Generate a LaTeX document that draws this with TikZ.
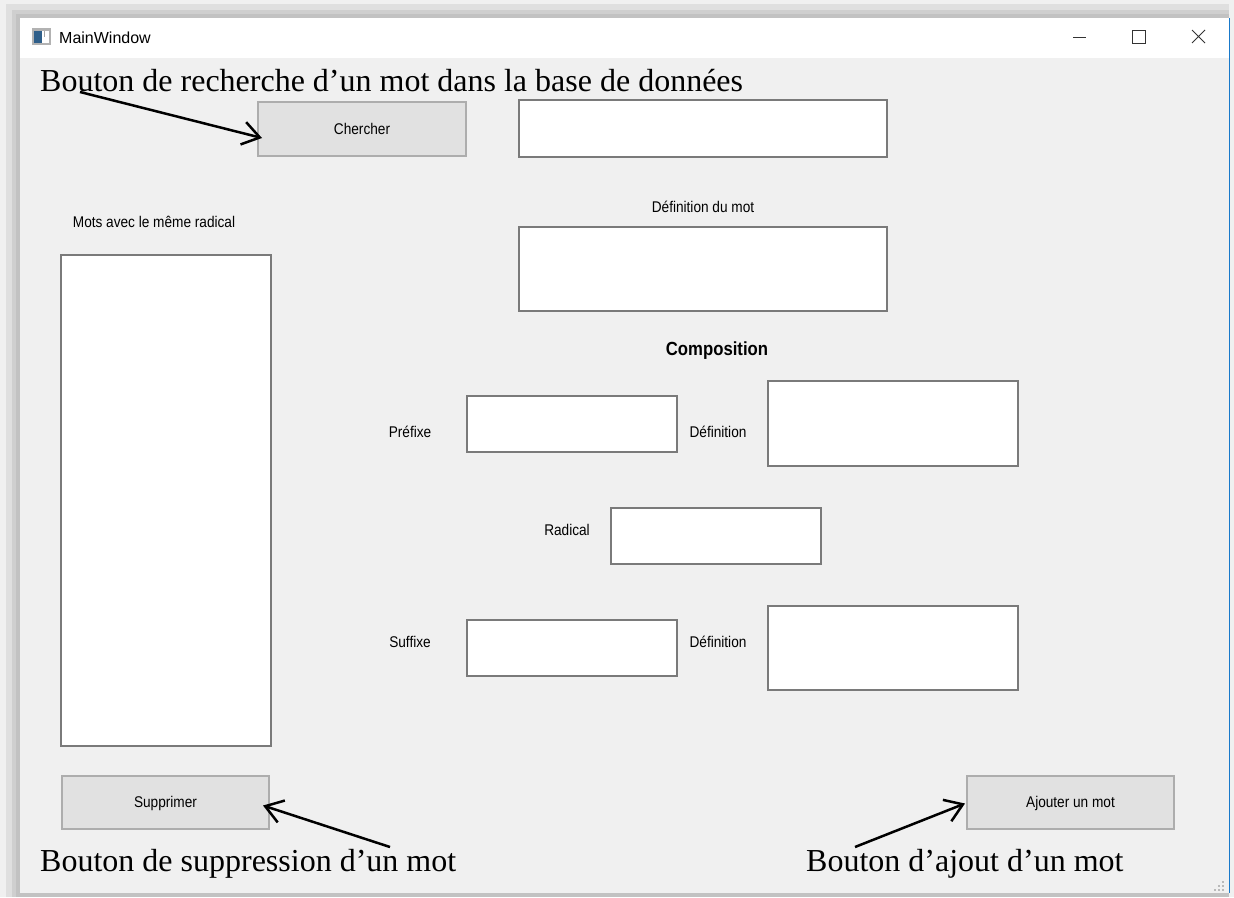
\documentclass[tikz,border=0pt]{standalone}
\usepackage{fontspec}
\setmainfont{Liberation Serif}
\newfontfamily\uifont[FakeStretch=0.88]{Liberation Sans}
\newfontfamily\titlefont{Liberation Sans}
\usepackage{xcolor}
\usetikzlibrary{arrows.meta,positioning,calc}
\definecolor{fondfenetre}{HTML}{F0F0F0}
\definecolor{bordchamp}{HTML}{7A7A7A}
\definecolor{fondbouton}{HTML}{E1E1E1}
\definecolor{bordbouton}{HTML}{ADADAD}
\definecolor{bleubord}{HTML}{1979CA}
\definecolor{icone}{HTML}{2F5F8A}

\begin{document}
\begin{tikzpicture}[x=1pt, y=-1pt,
    champ/.style={draw=bordchamp, fill=white, line width=1.3pt, anchor=north west, inner sep=0pt, outer sep=0pt},
    bouton/.style={draw=bordbouton, fill=fondbouton, line width=1.3pt, anchor=north west, inner sep=0pt, outer sep=0pt,
        text height=12pt, text depth=2pt, font=\uifont\fontsize{15.5}{18}\selectfont},
    etiquette/.style={anchor=base, inner sep=0pt, font=\uifont\fontsize{15.5}{18}\selectfont},
    note/.style={anchor=base west, inner sep=0pt, font=\fontsize{32}{38}\selectfont},
    fleche/.style={line width=2.5pt, -{Straight Barb[length=17pt, width=23pt]}}
]
    \useasboundingbox (0,0) rectangle (1234,897);

    % Shadow and window frame
    \fill[gray!12] (0,0) rectangle (1234,897);
    \fill[gray!25] (6,4) rectangle (1229,897);
    \fill[gray!38] (12,10) rectangle (1229,897);
    \fill[gray!48] (16,14) rectangle (1229,897);
    \fill[white] (20,18) rectangle (1229,58);
    \fill[fondfenetre] (20,58) rectangle (1229,893);
    \draw[bleubord, line width=1pt] (1229.5,18) -- (1229.5,893);

    % Title bar
    \fill[gray!60] (32,28) rectangle (51,45);
    \fill[white] (34,31) rectangle (49,43);
    \fill[icone] (34,31) rectangle (42,43);
    \fill[gray!70] (44,31) rectangle (45,37);
    \node[anchor=base west, inner sep=0pt, font=\titlefont\fontsize{16}{19}\selectfont] (titre) at (59,43) {MainWindow};
    \draw[line width=1pt, black!80] (1073,37.5) -- (1086,37.5);
    \draw[line width=1pt, black!80] (1132.5,30.5) rectangle (1145.5,43.5);
    \draw[line width=1pt, black!80] (1192,30) -- (1205,43) (1205,30) -- (1192,43);

    % Buttons
    \node[bouton, minimum width=208, minimum height=54] (chercher) at (258,102) {Chercher};
    \node[bouton, minimum width=207, minimum height=53] (supprimer) at (62,776) {Supprimer};
    \node[bouton, minimum width=207, minimum height=53] (ajouter) at (967,776) {Ajouter un mot};

    % Text fields
    \node[champ, minimum width=368, minimum height=57] (recherche) at (519,100) {};
    \node[champ, minimum width=368, minimum height=84] (defmot) at (519,227) {};
    \node[champ, minimum width=210, minimum height=491] (liste) at (61,255) {};
    \node[champ, minimum width=210, minimum height=56] (prefixe) at (467,396) {};
    \node[champ, minimum width=250, minimum height=85] (defprefixe) at (768,381) {};
    \node[champ, minimum width=210, minimum height=56] (radical) at (611,508) {};
    \node[champ, minimum width=210, minimum height=56] (suffixe) at (467,620) {};
    \node[champ, minimum width=250, minimum height=84] (defsuffixe) at (768,606) {};

    % Labels
    \node[etiquette] (lblMots) at (154,227) {Mots avec le même radical};
    \node[etiquette] (lblDefMot) at (703,212) {Définition du mot};
    \node[etiquette, font=\uifont\bfseries\fontsize{19}{22}\selectfont] (lblCompo) at (717,355) {Composition};
    \node[etiquette] (lblPrefixe) at (410,437) {Préfixe};
    \node[etiquette] (lblDefPrefixe) at (718,437) {Définition};
    \node[etiquette] (lblRadical) at (567,535) {Radical};
    \node[etiquette] (lblSuffixe) at (410,647) {Suffixe};
    \node[etiquette] (lblDefSuffixe) at (718,647) {Définition};

    % Size grip
    \foreach \gx/\gy in {1223/882, 1219/886, 1223/886, 1215/890, 1219/890, 1223/890}
        \fill[gray!55] (\gx-1,\gy-1) rectangle (\gx+1,\gy+1);

    % Annotations
    \node[note] (noteRecherche) at (40,91) {Bouton de recherche d’un mot dans la base de données};
    \node[note] (noteSuppression) at (40,871) {Bouton de suppression d’un mot};
    \node[note] (noteAjout) at (806,871) {Bouton d’ajout d’un mot};
    \coordinate (departR) at (80,92);
    \coordinate (departS) at (390,847);
    \coordinate (departA) at (855,847);
    \draw[fleche] (departR) -- ([shift={(4,9)}]chercher.west);
    \draw[fleche] (departS) -- ([shift={(-6,3)}]supprimer.east);
    \draw[fleche] (departA) -- ([shift={(-2,1)}]ajouter.west);
\end{tikzpicture}
\end{document}
